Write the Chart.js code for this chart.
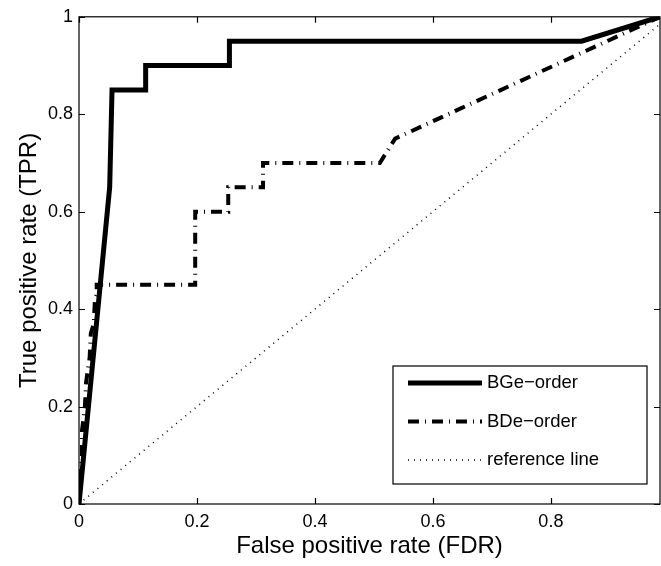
<!DOCTYPE html>
<html>
<head>
<meta charset="utf-8">
<title>ROC</title>
<script src="https://cdn.jsdelivr.net/npm/chart.js@4.4.0/dist/chart.umd.min.js"></script>
<style>
    html, body { margin: 0; padding: 0; background: #fff; }
</style>
</head>
<body>
<canvas id="chart-roc" width="661" height="566"></canvas>
<script>
// ROC points (false positive rate, true positive rate)
var bgeFpr = [0, 0.052, 0.056, 0.113, 0.113, 0.255, 0.255, 0.852, 0.985];
var bgeTpr = [0, 0.65, 0.85, 0.85, 0.90, 0.90, 0.95, 0.95, 1];

var bdeFpr = [0, 0.005, 0.005, 0.01, 0.012, 0.018, 0.02, 0.025, 0.027, 0.03, 0.03, 0.197, 0.197, 0.253, 0.253, 0.312, 0.312, 0.51, 0.536, 0.985];
var bdeTpr = [0, 0.1, 0.15, 0.2, 0.25, 0.3, 0.35, 0.37, 0.42, 0.43, 0.45, 0.45, 0.60, 0.60, 0.65, 0.65, 0.70, 0.70, 0.75, 1];

var refFpr = [0, 1];
var refTpr = [0, 1];

var seriesNames = ['BGe\u2212order', 'BDe\u2212order', 'reference line'];
var tickValues = [0, 0.2, 0.4, 0.6, 0.8, 1];

var FONT = 'Liberation Sans, Arial, Helvetica, sans-serif';

function toPoints(xs, ys) {
    return xs.map(function (x, i) { return {x: x, y: ys[i]}; });
}

function keepTicks(scale) {
    scale.ticks = tickValues.filter(function (v) {
        return v >= scale.min - 1e-9 && v <= scale.max + 1e-9;
    }).map(function (v) { return {value: v}; });
}

function tickText(value) {
    return String(value);
}

// box round the plot plus inward ticks on all four sides
var boxPlugin = {
    id: 'matlabBox',
    afterDatasetsDraw: function (chart) {
        var ctx = chart.ctx, a = chart.chartArea;
        var xs = chart.scales.x, ys = chart.scales.y;
        var len = 6;
        ctx.save();
        ctx.strokeStyle = '#000';
        ctx.lineWidth = 1.2;
        ctx.beginPath();
        xs.ticks.forEach(function (t) {
            var px = Math.round(xs.getPixelForValue(t.value)) + 0.5;
            ctx.moveTo(px, a.bottom); ctx.lineTo(px, a.bottom - len);
            ctx.moveTo(px, a.top); ctx.lineTo(px, a.top + len);
        });
        ys.ticks.forEach(function (t) {
            var py = Math.round(ys.getPixelForValue(t.value)) + 0.5;
            ctx.moveTo(a.left, py); ctx.lineTo(a.left + len, py);
            ctx.moveTo(a.right, py); ctx.lineTo(a.right - len, py);
        });
        ctx.stroke();
        ctx.strokeRect(a.left, a.top, a.right - a.left, a.bottom - a.top);
        ctx.restore();
    }
};

// legend drawn inside the lower right corner of the plot
var legendPlugin = {
    id: 'innerLegend',
    afterDraw: function (chart) {
        var ctx = chart.ctx, a = chart.chartArea;
        var right = a.right - 13, bottom = a.bottom - 20;
        var w = 254, h = 118;
        var left = right - w, top = bottom - h;
        ctx.save();
        ctx.fillStyle = '#fff';
        ctx.fillRect(left, top, w, h);
        ctx.strokeStyle = '#000';
        ctx.lineWidth = 1.2;
        ctx.strokeRect(left, top, w, h);
        ctx.font = '18.5px ' + FONT;
        ctx.textBaseline = 'middle';
        chart.data.datasets.forEach(function (ds, i) {
            var y = top + 17 + i * 38.5;
            ctx.save();
            ctx.strokeStyle = ds.borderColor;
            ctx.lineWidth = ds.borderWidth;
            ctx.lineCap = 'butt';
            ctx.setLineDash(ds.borderDash || []);
            ctx.beginPath();
            ctx.moveTo(left + 15, y);
            ctx.lineTo(left + 89, y);
            ctx.stroke();
            ctx.restore();
            ctx.fillStyle = '#000';
            ctx.fillText(ds.label, left + 94, y);
        });
        ctx.restore();
    }
};

var ctx_roc = document.getElementById('chart-roc');

var chartRoc = new Chart(ctx_roc, {
    type: 'line',
    data: {
        datasets: [{
            label: seriesNames[0],
            data: toPoints(bgeFpr, bgeTpr),
            borderColor: '#000',
            borderWidth: 5,
            borderJoinStyle: 'miter',
            borderCapStyle: 'butt'
        }, {
            label: seriesNames[1],
            data: toPoints(bdeFpr, bdeTpr),
            borderColor: '#000',
            borderWidth: 4,
            borderDash: [11, 6, 1, 6],
            borderJoinStyle: 'miter',
            borderCapStyle: 'butt'
        }, {
            label: seriesNames[2],
            data: toPoints(refFpr, refTpr),
            borderColor: '#000',
            borderWidth: 1.5,
            borderDash: [1, 5],
            borderCapStyle: 'butt'
        }]
    },
    options: {
        responsive: false,
        animation: false,
        devicePixelRatio: 1,
        layout: {padding: {top: 13, right: 1, left: 0, bottom: 0}},
        elements: {
            point: {radius: 0, hoverRadius: 0},
            line: {tension: 0, fill: false}
        },
        plugins: {
            legend: {display: false},
            tooltip: {enabled: false}
        },
        scales: {
            x: {
                type: 'linear',
                min: 0,
                max: 0.985,
                afterBuildTicks: keepTicks,
                afterFit: function (s) { s.height = 62; },
                grid: {display: false, drawTicks: false},
                border: {display: false},
                ticks: {
                    color: '#000',
                    padding: 7,
                    maxRotation: 0,
                    callback: tickText,
                    font: {family: FONT, size: 18}
                },
                title: {
                    display: true,
                    text: 'False positive rate (FDR)',
                    color: '#000',
                    padding: {top: 0, bottom: 5},
                    font: {family: FONT, size: 24}
                }
            },
            y: {
                type: 'linear',
                min: 0,
                max: 1,
                afterBuildTicks: keepTicks,
                afterFit: function (s) { s.width = 79; },
                grid: {display: false, drawTicks: false},
                border: {display: false},
                ticks: {
                    color: '#000',
                    padding: 6,
                    callback: tickText,
                    font: {family: FONT, size: 18}
                },
                title: {
                    display: true,
                    text: 'True positive rate (TPR)',
                    color: '#000',
                    padding: {top: 15, bottom: 0},
                    font: {family: FONT, size: 24}
                }
            }
        }
    },
    plugins: [boxPlugin, legendPlugin]
});
</script>
</body>
</html>
